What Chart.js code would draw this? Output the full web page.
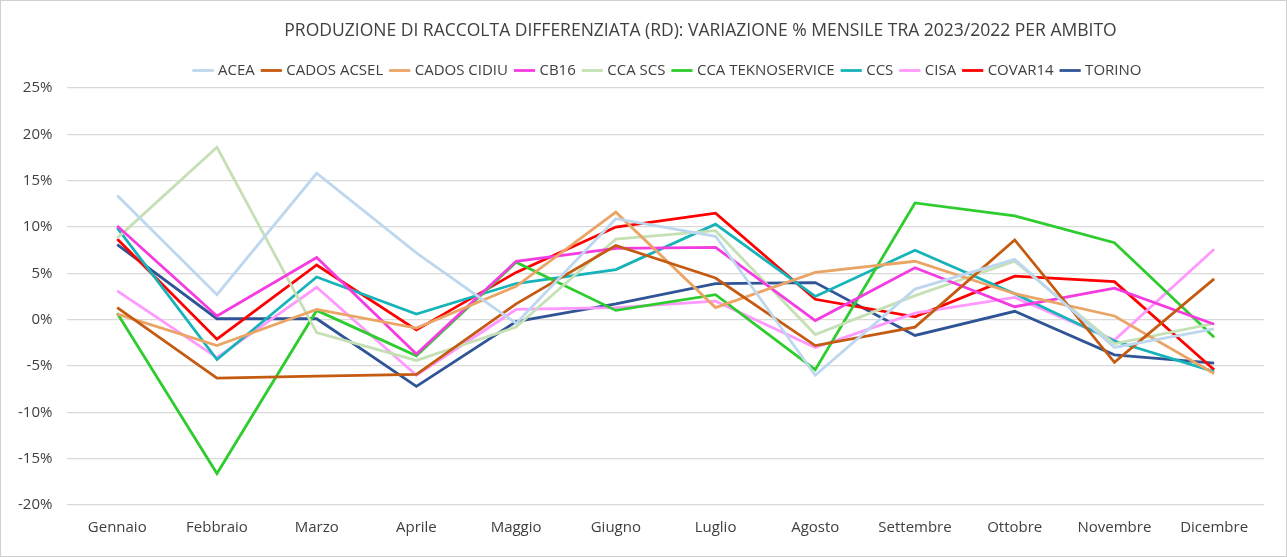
<!DOCTYPE html>
<html>
<head>
<meta charset="utf-8">
<script src="https://cdn.jsdelivr.net/npm/chart.js@4/dist/chart.umd.min.js"></script>
<style>
  html, body { margin: 0; padding: 0; background: #fff; }
  .wrap { position: relative; width: 1285px; height: 555px; border: 1px solid #d0d0d0; }
</style>
</head>
<body>
<div class="wrap"><canvas id="line-chart"></canvas></div>
<script>
const months = ["Gennaio", "Febbraio", "Marzo", "Aprile", "Maggio", "Giugno", "Luglio", "Agosto", "Settembre", "Ottobre", "Novembre", "Dicembre"];

const acea        = [13.4, 2.7, 15.8, 7.2, -0.4, 10.9, 9.0, -6.0, 3.3, 6.5, -3.0, -1.0];
const cadosAcsel  = [1.3, -6.3, -6.1, -5.9, 1.7, 8.0, 4.5, -2.8, -0.8, 8.6, -4.6, 4.4];
const cadosCidiu  = [0.6, -2.8, 1.1, -0.9, 3.6, 11.6, 1.3, 5.1, 6.3, 2.8, 0.4, -5.8];
const cb16        = [10.1, 0.4, 6.7, -3.7, 6.3, 7.7, 7.8, -0.1, 5.6, 1.4, 3.4, -0.5];
const ccaScs      = [8.8, 18.6, -1.4, -4.4, -0.8, 8.7, 9.6, -1.6, 2.6, 6.3, -2.6, -0.4];
const ccaTekno    = [0.7, -16.6, 1.0, -3.9, 6.2, 1.0, 2.7, -5.4, 12.6, 11.2, 8.3, -1.9];
const ccs         = [9.9, -4.3, 4.6, 0.6, 3.9, 5.4, 10.3, 2.5, 7.5, 2.8, -2.3, -5.6];
const cisa        = [3.1, -4.1, 3.5, -6.0, 1.1, 1.3, 2.0, -3.0, 0.7, 2.4, -2.2, 7.6];
const covar14     = [8.7, -2.1, 5.9, -1.1, 5.1, 10.0, 11.5, 2.2, 0.3, 4.7, 4.1, -5.4];
const torino      = [8.1, 0.1, 0.1, -7.2, -0.2, 1.7, 3.9, 4.0, -1.7, 0.9, -3.8, -4.7];

const series = [
  ["ACEA", acea, "#bdd7ee"],
  ["CADOS ACSEL", cadosAcsel, "#c55a11"],
  ["CADOS CIDIU", cadosCidiu, "#eaa566"],
  ["CB16", cb16, "#f53ce0"],
  ["CCA SCS", ccaScs, "#c5e0b4"],
  ["CCA TEKNOSERVICE", ccaTekno, "#2ecc2e"],
  ["CCS", ccs, "#16b4b9"],
  ["CISA", cisa, "#ff99ff"],
  ["COVAR14", covar14, "#ff0000"],
  ["TORINO", torino, "#2f5597"]
];

const fontFamily = "'Open Sans', sans-serif";

// Excel puts the title and legend a bit right of the canvas centre
const shiftHeader = {
  id: "shiftHeader",
  afterLayout(chart) {
    chart.titleBlock.left += 67;
    chart.titleBlock.right += 67;
    chart.legend.left += 35;
    chart.legend.right += 35;
  }
};

let config = {
  type: "line",
  data: {
    labels: months,
    datasets: series.map(([name, values, color]) => ({
      label: name,
      data: values,
      borderColor: color,
      backgroundColor: color,
      borderWidth: 2.8,
      pointRadius: 0,
      tension: 0,
      fill: false
    }))
  },
  options: {
    responsive: true,
    maintainAspectRatio: false,
    animation: false,
    layout: { padding: { left: 2, right: 22, top: 10, bottom: 13 } },
    plugins: {
      title: {
        display: true,
        text: "PRODUZIONE DI RACCOLTA DIFFERENZIATA (RD): VARIAZIONE % MENSILE TRA 2023/2022 PER AMBITO",
        color: "#404040",
        font: { family: fontFamily, size: 17.5, weight: "normal" },
        padding: { top: 10, bottom: 12 }
      },
      legend: {
        position: "top",
        labels: {
          usePointStyle: true,
          pointStyle: "line",
          boxWidth: 22,
          padding: 9,
          color: "#404040",
          font: { family: fontFamily, size: 15 }
        }
      },
      tooltip: { enabled: false }
    },
    scales: {
      x: {
        offset: true,
        grid: { display: false },
        border: { display: false },
        ticks: { color: "#404040", font: { family: fontFamily, size: 15 }, padding: 6 }
      },
      y: {
        min: -20,
        max: 25,
        ticks: {
          stepSize: 5,
          color: "#404040",
          padding: 15,
          font: { family: fontFamily, size: 15 },
          callback: (v) => v + "%"
        },
        grid: { color: "#d9d9d9", lineWidth: 1.3, drawTicks: false },
        border: { display: false }
      }
    }
  },
  plugins: [shiftHeader]
};

let ctx = document.getElementById("line-chart").getContext("2d");
window.myLine = new Chart(ctx, config);
</script>
</body>
</html>
